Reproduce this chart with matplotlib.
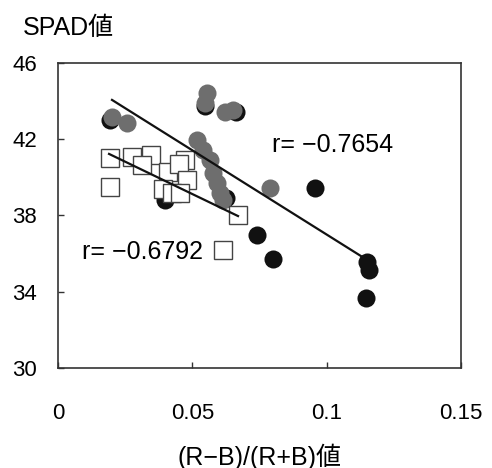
import matplotlib
matplotlib.use("Agg")
import matplotlib.pyplot as plt
import numpy as np
from matplotlib.lines import Line2D

plt.rcParams['font.family'] = ['Liberation Sans', 'Noto Sans CJK JP', 'DejaVu Sans']

# Data
black_x = [0.0194, 0.0547, 0.0662, 0.0625, 0.0398, 0.0956, 0.0741, 0.0800, 0.1150, 0.1157, 0.1146]
black_y = [43.01, 43.75, 43.43, 38.92, 38.81, 39.44, 36.98, 35.72, 35.56, 35.14, 33.67]

grey_x = [0.0201, 0.0257, 0.0555, 0.0547, 0.0622, 0.0651, 0.0517, 0.0540, 0.0566, 0.0577,
          0.0592, 0.0603, 0.0614, 0.0789]
grey_y = [43.17, 42.85, 44.43, 43.90, 43.43, 43.54, 41.96, 41.44, 40.91, 40.23,
          39.71, 39.18, 38.81, 39.44]

sq_x = [0.0194, 0.0194, 0.0275, 0.0346, 0.0313, 0.0409, 0.0473, 0.0450, 0.0480, 0.0391,
        0.0424, 0.0454, 0.0670]
sq_y = [41.02, 39.50, 41.07, 41.18, 40.65, 40.28, 40.91, 40.70, 39.86, 39.39,
        39.18, 39.18, 38.03]

# regression lines (slope, intercept, x range)
fit1_slope, fit1_intercept, fit1_x = -88.4, 45.84, [0.0201, 0.1150]
fit2_slope, fit2_intercept, fit2_x = -67.9, 42.52, [0.0190, 0.0670]
r1_label = "r= \u22120.7654"
r2_label = "r= \u22120.6792"

xticks = [0, 0.05, 0.1, 0.15]
xtick_labels = ["0", "0.05", "0.1", "0.15"]
yticks = [30, 34, 38, 42, 46]

fig = plt.figure(figsize=(4.92, 4.68), dpi=100)
ax = fig.add_axes([0.1179, 0.2137, 0.8191, 0.6517])

ax.plot(black_x, black_y, 'o', ms=13, color='#111111', mec='none', zorder=2)
ax.plot(grey_x, grey_y, 'o', ms=13, color='#6e6e6e', mec='none', zorder=3)
ax.plot(sq_x, sq_y, 's', ms=12.5, mfc='white', mec='#444444', mew=1.0, zorder=4)

for slope, icpt, xr in [(fit1_slope, fit1_intercept, fit1_x), (fit2_slope, fit2_intercept, fit2_x)]:
    xs = np.array(xr)
    ax.plot(xs, icpt + slope * xs, color='#111111', lw=1.6, zorder=5)

ax.set_xlim(0, 0.15)
ax.set_ylim(30, 46)
ax.set_xticks(xticks)
ax.set_xticklabels(xtick_labels)
ax.set_yticks(yticks)
ax.tick_params(axis='x', direction='in', length=4, width=1, color='#333333', labelsize=16, pad=25)
ax.tick_params(axis='y', direction='in', length=4, width=1, color='#333333', labelsize=16, pad=15)
for s in ax.spines.values():
    s.set_color('#333333')
    s.set_linewidth(1.2)

ax.text(0.0796, 41.7, r1_label, fontsize=18, ha='left', va='center')
handle = Line2D([], [], marker='s', ls='none', ms=12.5, mfc='white', mec='#444444', mew=1.0)
leg = ax.legend([handle], [r2_label], loc='center left', bbox_to_anchor=(0.028, 0.38),
                frameon=False, markerfirst=False, fontsize=18, handletextpad=0.3,
                borderpad=0, handlelength=1.0)

ax.set_xlabel("(R\u2212B)/(R+B)\u5024", fontsize=18, labelpad=14)
fig.text(23/492, 1 - 28/468, "SPAD\u5024", fontsize=18, ha='left', va='center')

fig.savefig("out.png", dpi=100)
